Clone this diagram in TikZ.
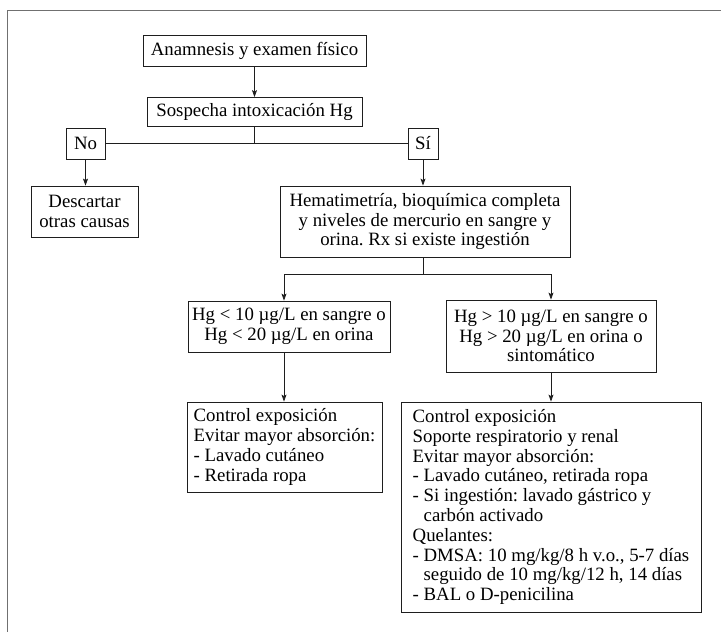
\documentclass[tikz,border=0pt]{standalone}
\usepackage{fontspec}
\setmainfont{Liberation Serif}
\usepackage{tikz}
\usetikzlibrary{arrows.meta}
\definecolor{marco}{RGB}{112,112,112}
\definecolor{tinta}{RGB}{30,30,30}

\begin{document}
\begin{tikzpicture}[x=1pt, y=-1pt,
    caja/.style={draw=tinta, line width=0.8pt, inner sep=0pt, align=center,
      font=\fontsize{18.8}{19.8}\selectfont\frenchspacing},
    lista/.style={caja, align=left},
    trazo/.style={draw=tinta, line width=0.8pt},
    flecha/.style={trazo, -{Stealth[length=7pt, width=5pt, inset=1.5pt]}}]
    \useasboundingbox (0,0) rectangle (721,632);
    \clip (0,0) rectangle (721,632);

    % marco exterior
    \draw[marco, line width=1.5pt] (7.5,700) -- (7.5,10.5) -- (760,10.5);

    % sospecha clinica
    \node[caja, minimum width=223pt, minimum height=31pt] (anam) at (254.5,51) {Anamnesis y examen físico};
    \node[caja, minimum width=215pt, minimum height=29pt] (sosp) at (254.5,112) {Sospecha intoxicación Hg};
    \node[caja, minimum width=39pt, minimum height=31pt] (no) at (85.5,143.5) {No};
    \node[caja, minimum width=30pt, minimum height=31pt] (si) at (423,143.5) {Sí};

    % rama no / rama si
    \node[caja, minimum width=107pt, minimum height=51pt] (desc) at (84.5,211.5) {Descartar\\otras causas};
    \node[caja, minimum width=290pt, minimum height=71pt] (hemat) at (425,221.5)
        {Hematimetría, bioquímica completa\\y niveles de mercurio en sangre y\\orina. Rx si existe ingestión};

    % niveles de mercurio
    \node[caja, minimum width=202pt, minimum height=51pt] (bajo) at (289,326.5)
        {Hg < 10 µg/L en sangre o\\Hg < 20 µg/L en orina};
    \node[caja, minimum width=210pt, minimum height=72pt] (alto) at (551,336)
        {Hg > 10 µg/L en sangre o\\Hg > 20 µg/L en orina o\\sintomático};

    % tratamiento
    \node[lista, minimum width=195pt, minimum height=90pt] (ctrlbajo) at (284.5,447)
        {Control exposición\\Evitar mayor absorción:\\- Lavado cutáneo\\- Retirada ropa};
    \node[lista, minimum width=300pt, minimum height=210pt] (ctrlalto) at (551,507)
        {Control exposición\\Soporte respiratorio y renal\\Evitar mayor absorción:\\
         - Lavado cutáneo, retirada ropa\\- Si ingestión: lavado gástrico y\\
         \hphantom{- }carbón activado\\Quelantes:\\- DMSA: 10 mg/kg/8 h v.o., 5-7 días\\
         \hphantom{- }seguido de 10 mg/kg/12 h, 14 días\\- BAL o D-penicilina};

    % puntos de union
    \coordinate (junsi) at (254.5,143.5);
    \coordinate (ja) at (284,274);
    \coordinate (jb) at (551,274);

    % conexiones
    \draw[flecha] (anam) -- (sosp);
    \draw[trazo] (sosp) -- (junsi);
    \draw[trazo] (no) -- (si);
    \draw[flecha] (no) -- (no |- desc.north);
    \draw[flecha] (si) -- (si |- hemat.north);
    \draw[trazo] (si |- hemat.south) -- (si |- ja);
    \draw[trazo] (ja) -- (jb);
    \draw[flecha] (ja) -- (ja |- bajo.north);
    \draw[flecha] (jb) -- (alto);
    \draw[flecha] (ja |- bajo.south) -- (ja |- ctrlbajo.north);
    \draw[flecha] (alto) -- (ctrlalto);
\end{tikzpicture}
\end{document}
